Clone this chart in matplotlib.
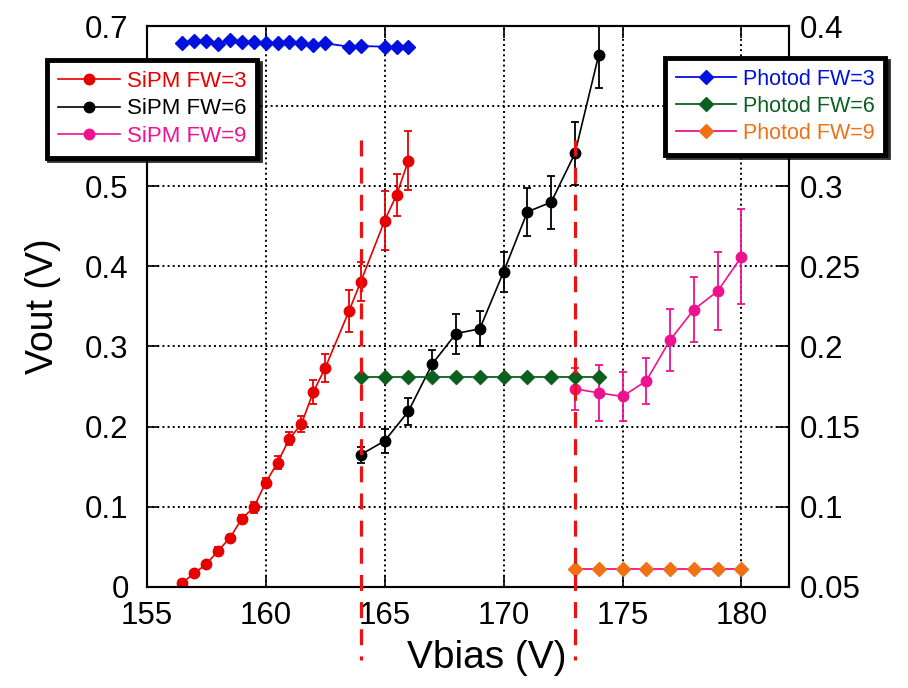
import matplotlib
matplotlib.use("Agg")
import matplotlib.pyplot as plt
from matplotlib.lines import Line2D
from matplotlib.ticker import FuncFormatter

plt.rcParams['font.family'] = ['Liberation Sans', 'DejaVu Sans']

# ---- data ----
sipm3_x = [156.5, 157, 157.5, 158, 158.5, 159, 159.5, 160, 160.5, 161, 161.5,
           162, 162.5, 163.5, 164, 165, 165.5, 166]
sipm3_y = [0.005, 0.017, 0.028, 0.045, 0.061, 0.085, 0.099, 0.130, 0.155, 0.185,
           0.203, 0.243, 0.273, 0.344, 0.381, 0.457, 0.489, 0.532]
sipm3_e = [0.003, 0.003, 0.003, 0.004, 0.004, 0.005, 0.007, 0.006, 0.008, 0.008,
           0.010, 0.015, 0.017, 0.026, 0.024, 0.037, 0.026, 0.037]

sipm6_x = [164, 165, 166, 167, 168, 169, 170, 171, 172, 173, 174]
sipm6_y = [0.165, 0.182, 0.219, 0.278, 0.316, 0.322, 0.393, 0.468, 0.480, 0.541, 0.664]
sipm6_e = [0.010, 0.015, 0.017, 0.017, 0.025, 0.022, 0.025, 0.030, 0.033, 0.039, 0.041]

sipm9_x = [173, 174, 175, 176, 177, 178, 179, 180]
sipm9_y = [0.247, 0.242, 0.2375, 0.257, 0.308, 0.346, 0.369, 0.412]
sipm9_e = [0.026, 0.035, 0.030, 0.029, 0.039, 0.041, 0.049, 0.059]

phot3_x = sipm3_x
phot3_y = [0.3896, 0.3908, 0.3908, 0.3888, 0.3913, 0.3900, 0.3900, 0.3892, 0.3892,
           0.3900, 0.3892, 0.3881, 0.3892, 0.3871, 0.3875, 0.3871, 0.3867, 0.3867]

phot6_x = [164, 165, 166, 167, 168, 169, 170, 171, 172, 173, 174]
phot6_y = [0.181] * 11

phot9_x = [173, 174, 175, 176, 177, 178, 179, 180]
phot9_y = [0.061] * 8

vlines_x = [164, 173]

labels_sipm = ['SiPM FW=3', 'SiPM FW=6', 'SiPM FW=9']
labels_phot = ['Photod FW=3', 'Photod FW=6', 'Photod FW=9']

left_ticks = [0, 0.1, 0.2, 0.3, 0.4, 0.5, 0.6, 0.7]
left_labels = ['0', '0.1', '0.2', '0.3', '0.4', '0.5', '', '0.7']   # 0.6 hidden by legend
right_ticks = [0.05, 0.1, 0.15, 0.2, 0.25, 0.3, 0.35, 0.4]
right_labels = ['0.05', '0.1', '0.15', '0.2', '0.25', '0.3', '', '0.4']  # 0.35 hidden by legend
x_ticks = [155, 160, 165, 170, 175, 180]

# ---- colours ----
c_red = '#E60000'
c_black = '#000000'
c_pink = '#EE1290'
c_blue = '#0010DD'
c_green = '#0B6020'
c_orange = '#F07014'

fig = plt.figure(figsize=(9.08, 6.88), dpi=100)
ax = fig.add_axes([0.1616, 0.1472, 0.869 - 0.1616, 0.9622 - 0.1472])
ax2 = ax.twinx()

fs_tick = 22.5

def eb(axis, x, y, e, c):
    axis.errorbar(x, y, yerr=e, color=c, marker='o', ms=7.5, lw=1.2,
                  elinewidth=1.3, capsize=3.2, capthick=1.3, zorder=3)

eb(ax, sipm3_x, sipm3_y, sipm3_e, c_red)
eb(ax, sipm6_x, sipm6_y, sipm6_e, c_black)
eb(ax, sipm9_x, sipm9_y, sipm9_e, c_pink)

ax2.plot(phot3_x, phot3_y, color=c_blue, marker='D', ms=7, lw=1.3, zorder=3)
ax2.plot(phot6_x, phot6_y, color=c_green, marker='D', ms=7, lw=1.3, zorder=3)
ax2.plot(phot9_x, phot9_y, color=c_pink, marker='D', ms=7, lw=1.3,
         mfc=c_orange, mec=c_orange, zorder=3)

for xv in vlines_x:
    ax2.plot([xv, xv], [0.5575, -0.092], transform=ax.transData, color='#EE1111',
             lw=2.3, ls=(0, (5, 3.5)), clip_on=False, zorder=6)

ax.set_xlim(155, 182)
ax.set_ylim(0, 0.7)
ax2.set_ylim(0.05, 0.4)
ax.set_xticks(x_ticks)
ax.set_yticks(left_ticks)
ax.set_yticklabels(left_labels)
ax2.set_yticks(right_ticks)
ax2.set_yticklabels(right_labels)

ax.grid(True, color='black', ls=':', lw=1.4)
ax.tick_params(axis='x', direction='in', top=True, length=8.5, width=1.2,
               labelsize=fs_tick, pad=10)
ax.tick_params(axis='y', direction='in', right=False, length=8.5, width=1.2,
               labelsize=fs_tick, pad=13)
ax2.tick_params(axis='y', direction='in', length=8.5, width=1.2,
                labelsize=fs_tick, pad=8)
for a in (ax, ax2):
    for s in a.spines.values():
        s.set_linewidth(1.5)

ax.set_xlabel('Vbias (V)', fontsize=28)
ax.xaxis.set_label_coords(0.53, -0.095)
ax.set_ylabel('Vout (V)', fontsize=27)
ax.yaxis.set_label_coords(-0.161, 0.5)
ax.yaxis.label.set_va('center')

# ---- legends ----
h_sipm = [Line2D([], [], color=c, marker='o', ms=7.5, lw=1.2)
          for c in (c_red, c_black, c_pink)]
h_phot = [Line2D([], [], color=c_blue, marker='D', ms=7, lw=1.3),
          Line2D([], [], color=c_green, marker='D', ms=7, lw=1.3),
          Line2D([], [], color=c_pink, marker='D', ms=7, lw=1.3,
                 mfc=c_orange, mec=c_orange)]

common = dict(frameon=True, fancybox=False, edgecolor='black', framealpha=1,
              handlelength=2.8, handletextpad=0.3, labelspacing=0.28,
              borderpad=0.5, borderaxespad=0,
              shadow={'color': 'black', 'alpha': 0.8})
leg1 = fig.legend(h_sipm, labels_sipm, loc='upper left',
                  bbox_to_anchor=(0.0514, 0.9128), fontsize=16,
                  labelcolor=[c_red, c_black, c_pink], **common)
leg2 = fig.legend(h_phot, labels_phot, loc='upper left',
                  bbox_to_anchor=(0.7324, 0.9157), fontsize=15.5,
                  labelcolor=[c_blue, c_green, c_orange], **common)
for lg in (leg1, leg2):
    lg.get_frame().set_linewidth(3.5)

fig.savefig('out.png', dpi=100)
